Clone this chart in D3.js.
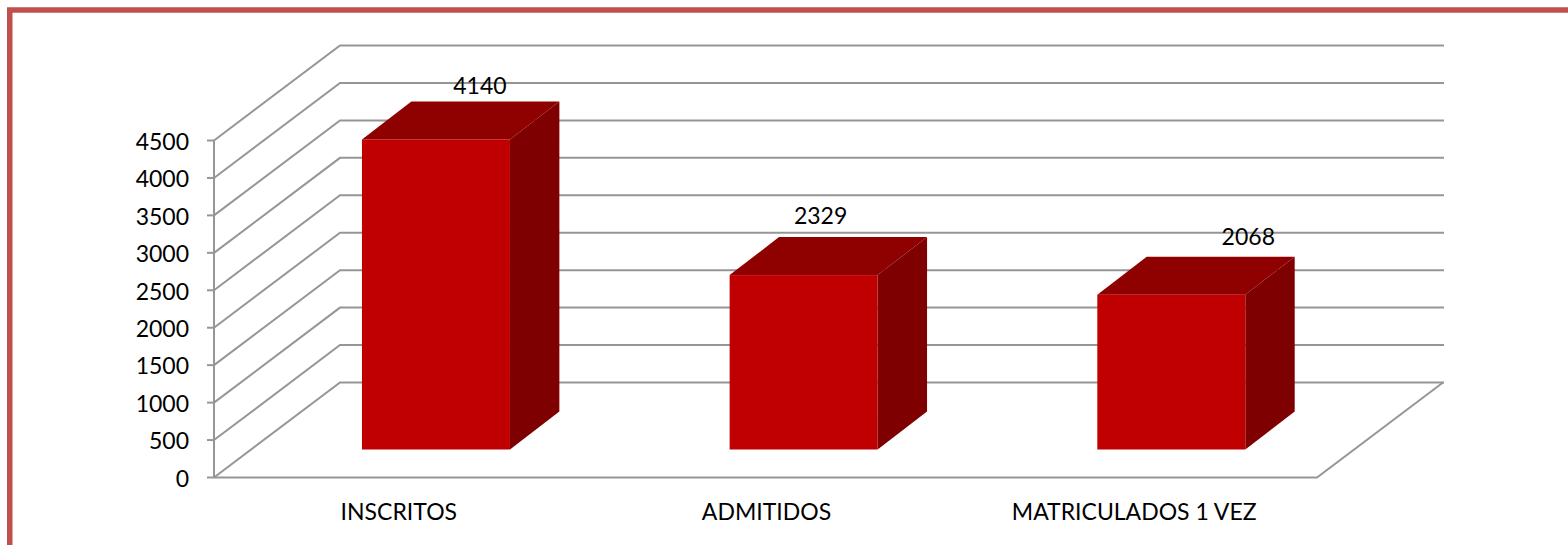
<!DOCTYPE html>
<html><head><meta charset="utf-8">
<script src="https://cdn.jsdelivr.net/npm/d3@7"></script>
<style>html,body{margin:0;padding:0;background:#fff}svg{display:block}text{font-family:Lato,"Open Sans",sans-serif;fill:#000}</style>
</head><body><svg id="c" width="1568" height="545"></svg>
<script>
const categories = ["INSCRITOS", "ADMITIDOS", "MATRICULADOS 1 VEZ"];
const values = [4140, 2329, 2068];
const yTicks = [0, 500, 1000, 1500, 2000, 2500, 3000, 3500, 4000, 4500];

const svg = d3.select("#c");
const W = 1568, H = 545;
// frame
svg.append("rect").attr("x", 9.75).attr("y", 10).attr("width", W).attr("height", H)
  .attr("fill", "#fff").attr("stroke", "#c0504d").attr("stroke-width", 5.5);

const left = 214, right = 1317, y0 = 477.5, yTop = 140.5;
const depthX = 126, depthY = -95;
const x = d3.scaleBand().domain(categories).range([left, right]);
const y = d3.scaleLinear().domain([0, 4500]).range([y0, yTop]);
const grid = "#969696";
const g = svg.append("g").attr("fill", "none").attr("stroke", grid).attr("stroke-width", 2);

// wall gridlines
yTicks.forEach(t => {
  const py = y(t);
  g.append("path").attr("d", d3.line()([[left, py], [left + depthX, py + depthY], [right + depthX + 1, py + depthY]]));
});
// floor
g.append("path").attr("d", d3.line()([[left, y0], [right, y0], [right + depthX, y0 + depthY]]));
// axis + ticks
g.append("path").attr("d", d3.line()([[left, y(4500)], [left, y0]]));
yTicks.forEach(t => g.append("path").attr("d", d3.line()([[left - 7, y(t)], [left, y(t)]])));

// bars
const dStart = 28 / 95, dEnd = 66 / 95, barW = 148;
categories.forEach((c, i) => {
  const cx = x(c) + x.bandwidth() / 2 + depthX * dStart + 1;
  const xl = cx - barW / 2, xr = cx + barW / 2;
  const yb = y(0) + depthY * dStart, yt = y(values[i]) + depthY * dStart;
  const dx = depthX * (dEnd - dStart) - 1, dy = depthY * (dEnd - dStart);
  const line = d3.line();
  svg.append("path").attr("fill", "#7f0000").attr("d", line([[xr, yt], [xr + dx, yt + dy], [xr + dx, yb + dy], [xr, yb]]) + "Z");
  svg.append("path").attr("fill", "#8f0000").attr("d", line([[xl, yt], [xl + dx, yt + dy], [xr + dx, yt + dy], [xr, yt]]) + "Z");
  svg.append("rect").attr("x", xl).attr("y", yt).attr("width", barW).attr("height", yb - yt).attr("fill", "#c00000");
});

// text
const fs = 23;
yTicks.forEach(t => svg.append("text").attr("x", 189).attr("y", y(t) + 1).attr("dy", "0.36em")
  .attr("text-anchor", "end").attr("font-size", fs).text(t));
categories.forEach(c => svg.append("text").attr("x", x(c) + x.bandwidth() / 2 + 1).attr("y", 519.5)
  .attr("text-anchor", "middle").attr("font-size", fs).text(c));
const labelOffsets = [[45, -54], [18, -59], [78, -58]];
categories.forEach((c, i) => {
  const cx = x(c) + x.bandwidth() / 2 + depthX * dStart;
  const yt = y(values[i]) + depthY * dStart;
  svg.append("text").attr("x", cx + labelOffsets[i][0]).attr("y", yt + labelOffsets[i][1]).attr("dy", "0.36em")
    .attr("text-anchor", "middle").attr("font-size", fs).text(values[i]);
});
</script></body></html>
